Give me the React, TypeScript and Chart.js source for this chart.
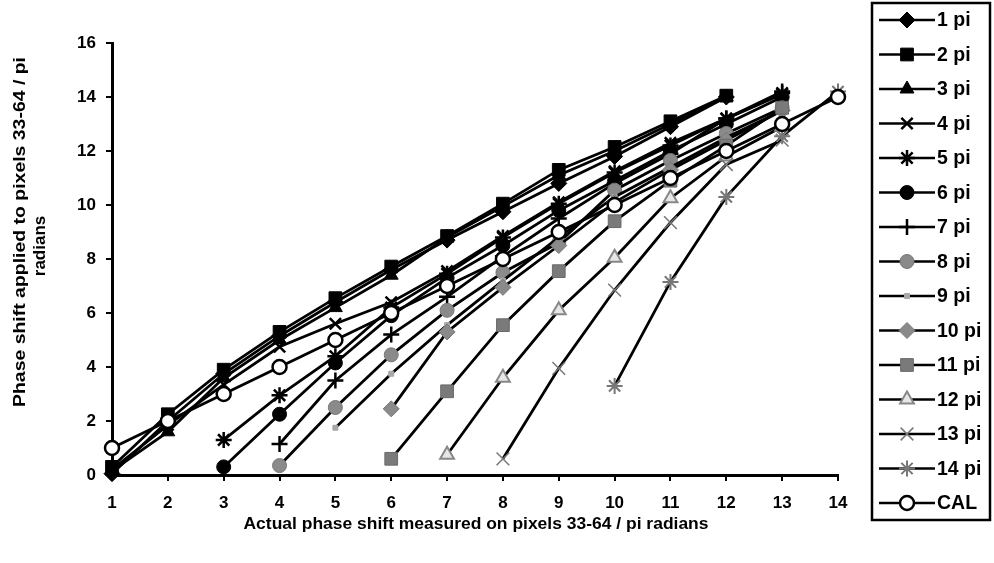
import React, { useEffect, useRef } from "react";
import { Chart, registerables } from "chart.js";
import { drawPoint } from "chart.js/helpers";

Chart.register(...registerables);

// x positions (measured phase shift, in pi radians) and tick labels
const xTickValues = [1, 2, 3, 4, 5, 6, 7, 8, 9, 10, 11, 12, 13, 14];
const yTickValues = [0, 2, 4, 6, 8, 10, 12, 14, 16];

// each series: first x value and the applied phase shift at successive x steps
const pi1From = 1;
const pi1 = [0.05, 2.0, 3.75, 5.15, 6.4, 7.6, 8.7, 9.75, 10.8, 11.8, 12.9, 14.0];
const pi2From = 1;
const pi2 = [0.3, 2.25, 3.9, 5.3, 6.55, 7.72, 8.85, 10.05, 11.3, 12.15, 13.1, 14.05];
const pi3From = 1;
const pi3 = [0.15, 1.6, 3.6, 5.0, 6.2, 7.4, 8.8, 9.95, 11.1, 12.0, 13.0, 14.0];
const pi4From = 1;
const pi4 = [0.2, 1.85, 3.35, 4.75, 5.6, 6.4, 7.55, 8.85, 10.1, 11.25, 12.3, 13.2, 14.1];
const pi5From = 3;
const pi5 = [1.3, 2.95, 4.4, 6.2, 7.45, 8.8, 10.05, 11.2, 12.2, 13.2, 14.15];
const pi6From = 3;
const pi6 = [0.3, 2.25, 4.15, 5.9, 7.3, 8.5, 9.8, 10.9, 12.0, 13.0, 14.0];
const pi7From = 4;
const pi7 = [1.15, 3.5, 5.2, 6.6, 8.1, 9.5, 10.8, 11.9, 13.2, 14.2];
const pi8From = 4;
const pi8 = [0.35, 2.5, 4.45, 6.1, 7.5, 8.6, 10.55, 11.65, 12.65, 13.6];
const pi9From = 5;
const pi9 = [1.75, 3.75, 5.55, 7.2, 8.8, 10.3, 11.4, 12.5, 13.5];
const pi10From = 6;
const pi10 = [2.45, 5.3, 6.95, 8.5, 10.1, 11.3, 12.4, 13.5];
const pi11From = 6;
const pi11 = [0.6, 3.1, 5.55, 7.55, 9.4, 10.9, 12.2, 13.6];
const pi12From = 7;
const pi12 = [0.75, 3.6, 6.1, 8.05, 10.25, 11.8, 12.9];
const pi13From = 8;
const pi13 = [0.6, 3.95, 6.85, 9.35, 11.5, 12.4];
const pi14From = 10;
const pi14 = [3.3, 7.15, 10.3, 12.55, 14.2];
const calFrom = 1;
const cal = [1, 2, 3, 4, 5, 6, 7, 8, 9, 10, 11, 12, 13, 14];

const seriesLabels = [
  "1 pi", "2 pi", "3 pi", "4 pi", "5 pi", "6 pi", "7 pi",
  "8 pi", "9 pi", "10 pi", "11 pi", "12 pi", "13 pi", "14 pi", "CAL",
];

const xTitle = "Actual phase shift measured on pixels 33-64 / pi radians";
const yTitleLines = ["Phase shift applied to pixels 33-64 / pi", "radians"];

const FONT = "'Liberation Sans', Arial, Helvetica, sans-serif";

type Marker = {
  style: string;
  radius: number;
  fill: string;
  stroke: string;
  width: number;
};

const markers: Marker[] = [
  { style: "rectRot", radius: 8, fill: "#000", stroke: "#000", width: 1 },
  { style: "rect", radius: 9, fill: "#000", stroke: "#000", width: 1 },
  { style: "triangle", radius: 8, fill: "#000", stroke: "#000", width: 1 },
  { style: "crossRot", radius: 8, fill: "#000", stroke: "#000", width: 2.5 },
  { style: "star", radius: 8, fill: "#000", stroke: "#000", width: 2.5 },
  { style: "circle", radius: 7, fill: "#000", stroke: "#000", width: 1 },
  { style: "cross", radius: 8, fill: "#000", stroke: "#000", width: 2.5 },
  { style: "circle", radius: 7, fill: "#8a8a8a", stroke: "#777", width: 1 },
  { style: "rect", radius: 3.5, fill: "#a8a8a8", stroke: "#a8a8a8", width: 1 },
  { style: "rectRot", radius: 8, fill: "#8a8a8a", stroke: "#777", width: 1 },
  { style: "rect", radius: 9, fill: "#7a7a7a", stroke: "#6a6a6a", width: 1 },
  { style: "triangle", radius: 8, fill: "#e6e6e6", stroke: "#888", width: 2 },
  { style: "crossRot", radius: 9, fill: "#777", stroke: "#777", width: 1.5 },
  { style: "star", radius: 8, fill: "#777", stroke: "#777", width: 2 },
  { style: "circle", radius: 7, fill: "#fff", stroke: "#000", width: 2.5 },
];

const seriesValues = [pi1, pi2, pi3, pi4, pi5, pi6, pi7, pi8, pi9, pi10, pi11, pi12, pi13, pi14, cal];
const seriesFrom = [
  pi1From, pi2From, pi3From, pi4From, pi5From, pi6From, pi7From,
  pi8From, pi9From, pi10From, pi11From, pi12From, pi13From, pi14From, calFrom,
];

const legendBox = { left: 872, top: 3, right: 990, bottom: 520 };
const legendFirstY = 20;
const legendStep = 34.5;

// draws text centred at (cx, cy), rotated, optionally squeezed or stretched to a given length
function fitText(
  ctx: CanvasRenderingContext2D,
  text: string,
  cx: number,
  cy: number,
  length: number | null,
  angle: number
) {
  const w = ctx.measureText(text).width;
  ctx.save();
  ctx.translate(cx, cy);
  ctx.rotate(angle);
  if (length) ctx.scale(length / w, 1);
  ctx.fillText(text, 0, 0);
  ctx.restore();
}

const sidePlugin = {
  id: "sideDecor",
  afterDraw(chart: any) {
    const ctx: CanvasRenderingContext2D = chart.ctx;
    ctx.save();

    // axis titles
    ctx.fillStyle = "#000";
    ctx.font = `bold 17px ${FONT}`;
    ctx.textAlign = "center";
    ctx.textBaseline = "middle";
    fitText(ctx, xTitle, 476, 524, 465, 0);
    fitText(ctx, yTitleLines[0], 20, 232, 350, -Math.PI / 2);
    fitText(ctx, yTitleLines[1], 40, 246, null, -Math.PI / 2);

    // legend frame
    ctx.strokeStyle = "#000";
    ctx.lineWidth = 2.5;
    ctx.strokeRect(
      legendBox.left,
      legendBox.top,
      legendBox.right - legendBox.left,
      legendBox.bottom - legendBox.top
    );

    // legend entries: line sample, marker, label
    chart.data.datasets.forEach((ds: any, i: number) => {
      const y = legendFirstY + i * legendStep;
      const m = markers[i];
      ctx.beginPath();
      ctx.strokeStyle = "#000";
      ctx.lineWidth = 2.5;
      ctx.moveTo(879, y);
      ctx.lineTo(935, y);
      ctx.stroke();
      ctx.fillStyle = m.fill;
      ctx.strokeStyle = m.stroke;
      ctx.lineWidth = m.width;
      drawPoint(
        ctx,
        { pointStyle: m.style as any, radius: m.radius, borderWidth: m.width, rotation: 0 },
        907,
        y
      );
      ctx.fillStyle = "#000";
      ctx.font = `bold 19.5px ${FONT}`;
      ctx.textAlign = "left";
      ctx.textBaseline = "middle";
      ctx.fillText(ds.label, 937, y + 1);
    });

    ctx.restore();
  },
};

export default function App() {
  const canvasRef = useRef<HTMLCanvasElement | null>(null);

  useEffect(() => {
    if (!canvasRef.current) return;
    const n = seriesValues.length;
    const datasets = seriesValues.map((vals, i) => {
      const m = markers[i];
      return {
        label: seriesLabels[i],
        data: vals.map((y, k) => ({ x: seriesFrom[i] + k, y })),
        borderColor: "#000",
        borderWidth: 2.8,
        backgroundColor: m.fill,
        pointStyle: m.style,
        pointRadius: m.radius,
        pointBackgroundColor: m.fill,
        pointBorderColor: m.stroke,
        pointBorderWidth: m.width,
        pointHoverRadius: m.radius,
        fill: false,
        tension: 0,
        clip: false as any,
        order: n - i,
      };
    });

    const tickFont = { family: FONT, size: 17, weight: "bold" as const };

    const chart = new Chart(canvasRef.current, {
      type: "line",
      data: { datasets },
      options: {
        animation: false,
        responsive: true,
        maintainAspectRatio: false,
        layout: { padding: { left: 0, top: 43, right: 156, bottom: 0 } },
        plugins: {
          legend: { display: false },
          tooltip: { enabled: false },
          title: { display: false },
        },
        scales: {
          x: {
            type: "linear",
            min: 1,
            max: 14,
            afterFit: (s: any) => {
              s.height = 88;
            },
            afterBuildTicks: (s: any) => {
              s.ticks = xTickValues.map((v) => ({ value: v }));
            },
            ticks: {
              color: "#000",
              font: tickFont,
              padding: 12,
              maxRotation: 0,
              autoSkip: false,
            },
            grid: {
              drawOnChartArea: false,
              drawTicks: true,
              tickLength: 6,
              color: "#000",
              lineWidth: 2,
            },
            border: { display: true, color: "#000", width: 3 },
          },
          y: {
            type: "linear",
            min: 0,
            max: 16,
            afterFit: (s: any) => {
              s.width = 112;
            },
            afterBuildTicks: (s: any) => {
              s.ticks = yTickValues.map((v) => ({ value: v }));
            },
            ticks: {
              color: "#000",
              font: tickFont,
              padding: 10,
            },
            grid: {
              drawOnChartArea: false,
              drawTicks: true,
              tickLength: 6,
              color: "#000",
              lineWidth: 2,
            },
            border: { display: true, color: "#000", width: 3 },
          },
        },
      },
      plugins: [sidePlugin],
    } as any);

    return () => chart.destroy();
  }, []);

  return (
    <div
      style={{
        position: "fixed",
        left: 0,
        top: 0,
        width: 994,
        height: 563,
        background: "#fff",
      }}
    >
      <canvas ref={canvasRef} />
    </div>
  );
}
